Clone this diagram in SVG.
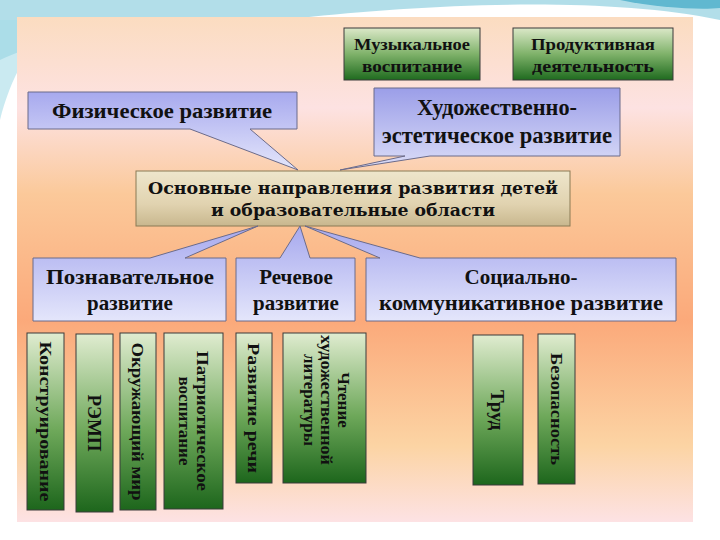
<svg xmlns="http://www.w3.org/2000/svg" width="720" height="540" viewBox="0 0 720 540">
<defs>
<linearGradient id="bg" x1="0" y1="0" x2="0" y2="1">
<stop offset="0" stop-color="#fbdcc0"/><stop offset="0.18" stop-color="#fde2e2"/><stop offset="0.35" stop-color="#fbc99a"/><stop offset="0.6" stop-color="#fba97a"/><stop offset="0.85" stop-color="#fcd4a4"/><stop offset="1" stop-color="#fde2e4"/>
</linearGradient>
<linearGradient id="green" x1="0" y1="0" x2="0" y2="1">
<stop offset="0" stop-color="#dbe8c8"/><stop offset="0.5" stop-color="#7fb26a"/><stop offset="1" stop-color="#1f6b1f"/>
</linearGradient>
<linearGradient id="greenv" x1="0" y1="0" x2="0" y2="1">
<stop offset="0" stop-color="#e0ecd0"/><stop offset="0.55" stop-color="#6ea85a"/><stop offset="1" stop-color="#1d661c"/>
</linearGradient>
<linearGradient id="blue" x1="0" y1="0" x2="0" y2="1">
<stop offset="0" stop-color="#a7a9ee"/><stop offset="1" stop-color="#e4e6fb"/>
</linearGradient>
<linearGradient id="blue2" x1="0" y1="0" x2="0" y2="1">
<stop offset="0" stop-color="#9b9ee8"/><stop offset="1" stop-color="#dcdef8"/>
</linearGradient>
<linearGradient id="tan" x1="0" y1="0" x2="0" y2="1">
<stop offset="0" stop-color="#eee6cc"/><stop offset="0.6" stop-color="#e1d3b0"/><stop offset="1" stop-color="#c8b78e"/>
</linearGradient>
</defs>
<style>
.t{font-weight:bold;fill:#111;text-anchor:middle}
.g{stroke:#3a3a3a;stroke-width:1}
.c{stroke:#6b6b8a;stroke-width:1}
</style>
<rect width="720" height="540" fill="#ffffff"/>
<path d="M0 0 H720 V20 C600 -5 420 5 300 18 C180 30 60 30 0 60 Z" fill="#9fd6e4" opacity="0.8"/>
<path d="M620 0 C660 8 700 10 720 8 V0 Z" fill="#60b8d0"/>
<path d="M0 120 C10 80 30 40 60 20 L0 20 Z" fill="#a6dce8" opacity="0.6"/>
<rect x="17" y="17" width="676" height="505" fill="url(#bg)"/>

<g id="connectors"></g>

<g font-family="Liberation Serif, serif">
<g id="muz"><rect class="g" x="344" y="28" width="136" height="52" fill="url(#green)"/><text class="t" font-size="17" x="412" y="50" textLength="116" lengthAdjust="spacingAndGlyphs">Музыкальное</text><text class="t" font-size="17" x="412" y="72" textLength="100" lengthAdjust="spacingAndGlyphs">воспитание</text></g>
<g id="prod"><rect class="g" x="513" y="28" width="160" height="52" fill="url(#green)"/><text class="t" font-size="17" x="593" y="50" textLength="124" lengthAdjust="spacingAndGlyphs">Продуктивная</text><text class="t" font-size="17" x="593" y="72" textLength="122" lengthAdjust="spacingAndGlyphs">деятельность</text></g>

<g id="fiz"><path class="c" d="M28 92 H297 V129 H250 L298 170 L190 129 H28 Z" fill="url(#blue)"/><text class="t" font-size="22" x="162" y="118" textLength="220" lengthAdjust="spacingAndGlyphs">Физическое развитие</text></g>
<g id="hud"><path class="c" d="M374 88 H620 V156 H430 L340 170 L405 156 H374 Z" fill="url(#blue2)"/><text class="t" font-size="23" x="497" y="115" textLength="160" lengthAdjust="spacingAndGlyphs">Художественно-</text><text class="t" font-size="23" x="497" y="143" textLength="230" lengthAdjust="spacingAndGlyphs">эстетическое развитие</text></g>

<g id="center"><rect x="136" y="171" width="434" height="55" fill="url(#tan)" stroke="#8a7a55"/><text class="t" font-size="16" x="353" y="194" font-family="DejaVu Serif, serif" textLength="410" lengthAdjust="spacingAndGlyphs">Основные направления развития детей</text><text class="t" font-size="16" x="353" y="216" font-family="DejaVu Serif, serif" textLength="284" lengthAdjust="spacingAndGlyphs">и образовательные области</text></g>

<g id="pozn"><path class="c" d="M33 258 H150 L258 226 L185 258 H226 V321 H33 Z" fill="url(#blue)"/><text class="t" font-size="21" x="130" y="284" textLength="168" lengthAdjust="spacingAndGlyphs">Познавательное</text><text class="t" font-size="21" x="130" y="310">развитие</text></g>
<g id="rech"><path class="c" d="M236 258 H280 L300 226 L310 258 H355 V321 H236 Z" fill="url(#blue)"/><text class="t" font-size="21" x="296" y="284">Речевое</text><text class="t" font-size="21" x="296" y="310">развитие</text></g>
<g id="soc"><path class="c" d="M366 258 H380 L305 226 L420 258 H676 V321 H366 Z" fill="url(#blue)"/><text class="t" font-size="21" x="521" y="284">Социально-</text><text class="t" font-size="21" x="521" y="310" textLength="284" lengthAdjust="spacingAndGlyphs">коммуникативное развитие</text></g>

<g id="v1"><rect class="g" x="27" y="333" width="37" height="177" fill="url(#greenv)"/><text class="t" font-size="17" transform="translate(45.5 421.5) rotate(90)" y="6" textLength="160" lengthAdjust="spacingAndGlyphs">Конструирование</text></g>
<g id="v2"><rect class="g" x="76" y="334" width="37" height="178" fill="url(#greenv)"/><text class="t" font-size="19" transform="translate(94.5 423) rotate(90)" y="7">РЭМП</text></g>
<g id="v3"><rect class="g" x="120" y="333" width="36" height="177" fill="url(#greenv)"/><text class="t" font-size="17" transform="translate(138 421.5) rotate(90)" y="6" textLength="158" lengthAdjust="spacingAndGlyphs">Окружающий мир</text></g>
<g id="v4"><rect class="g" x="164" y="333" width="59" height="176" fill="url(#greenv)"/><text class="t" font-size="17" transform="translate(193.5 421) rotate(90)" y="-3" textLength="140" lengthAdjust="spacingAndGlyphs">Патриотическое</text><text class="t" font-size="17" transform="translate(193.5 421) rotate(90)" y="15">воспитание</text></g>
<g id="v5"><rect class="g" x="236" y="333" width="36" height="150" fill="url(#greenv)"/><text class="t" font-size="17" transform="translate(254 408) rotate(90)" y="6" textLength="130" lengthAdjust="spacingAndGlyphs">Развитие речи</text></g>
<g id="v6"><rect class="g" x="283" y="333" width="83" height="150" fill="url(#greenv)"/><text class="t" font-size="17" transform="translate(324.5 400) rotate(90)" y="-13">Чтение</text><text class="t" font-size="17" transform="translate(324.5 400) rotate(90)" y="4" textLength="130" lengthAdjust="spacingAndGlyphs">художественной</text><text class="t" font-size="17" transform="translate(324.5 400) rotate(90)" y="21">литературы</text></g>
<g id="v7"><rect class="g" x="473" y="335" width="50" height="150" fill="url(#greenv)"/><text class="t" font-size="19" transform="translate(498 410) rotate(90)" y="7">Труд</text></g>
<g id="v8"><rect class="g" x="538" y="334" width="37" height="150" fill="url(#greenv)"/><text class="t" font-size="17" transform="translate(556.5 409) rotate(90)" y="6" textLength="112" lengthAdjust="spacingAndGlyphs">Безопасность</text></g>
</g>
</svg>
